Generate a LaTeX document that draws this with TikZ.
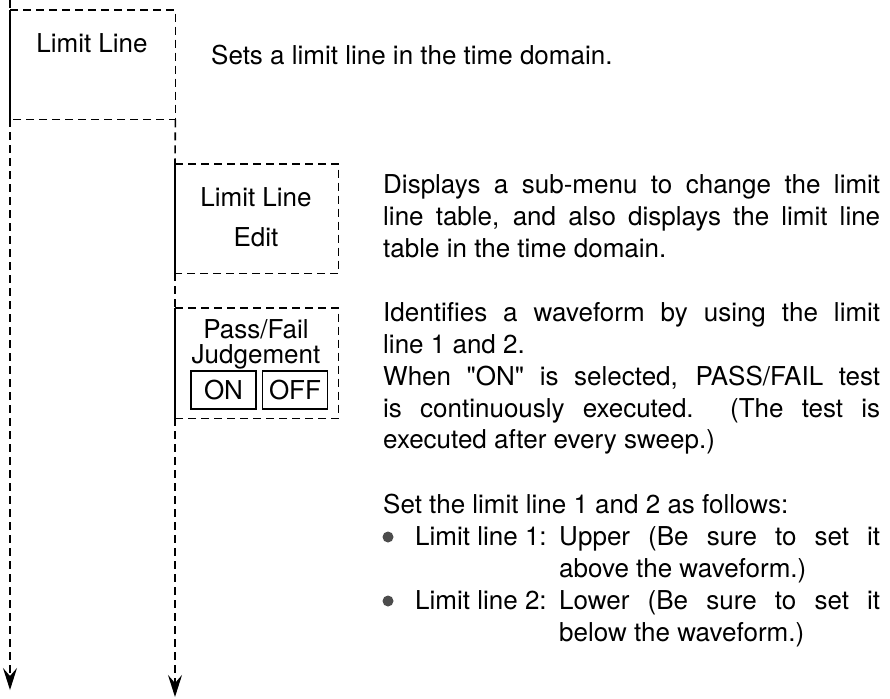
\documentclass[tikz,border=0pt]{standalone}
\usepackage{fontspec}
\setmainfont{TeX Gyre Heros}
\usepackage{tikz}
\usetikzlibrary{arrows.meta}

\newcommand{\justline}[2]{\makebox[#1pt][s]{#2}}

\tikzset{
    txt/.style={inner sep=0pt, anchor=base west, font=\fontsize{26}{32}\selectfont},
    boxtxt/.style={inner sep=0pt, anchor=base, font=\fontsize{26}{32}\selectfont},
    menubox/.style={rectangle, inner sep=0pt, anchor=north west},
    flowline/.style={line width=1.6pt, dash pattern=on 8pt off 5pt},
    edgeline/.style={line width=1.6pt},
    keybox/.style={draw, line width=1.6pt, minimum width=65pt, minimum height=38pt,
        inner sep=0pt, font=\fontsize{26}{32}\selectfont},
    dot/.style={circle, fill=black!70, inner sep=0pt, minimum size=11pt}
}

\begin{document}
\begin{tikzpicture}[x=1pt, y=-1pt, >={Stealth[length=22pt, width=14pt, inset=8pt]}]

\useasboundingbox (0,0) rectangle (890,698);

% ---------------- MENU BOXES ----------------

\node[menubox, minimum width=165pt, minimum height=109pt] (limit) at (10,10) {};
\node[menubox, minimum width=163pt, minimum height=109pt] (edit) at (175,164) {};
\node[menubox, minimum width=163pt, minimum height=110pt] (judge) at (175,308) {};

\foreach \b in {limit, edit, judge} {
    \draw[flowline] (\b.north west) -- (\b.north east) -- (\b.south east) -- (\b.south west);
    \draw[edgeline] (\b.north west) -- (\b.south west);
}

\node[boxtxt] (limitlbl) at (92,53) {Limit Line};
\node[boxtxt] (editlbl) at (256,206) {Limit Line};
\node[boxtxt] (editlbl2) at (256,246) {Edit};
\node[boxtxt] (judgelbl) at (256,338) {Pass/Fail};
\node[boxtxt] (judgelbl2) at (256,363) {Judgement};

\node[keybox] (on) at (223.5,390) {ON};
\node[keybox] (off) at (295,390) {OFF};

% ---------------- FLOW LINES ----------------

\coordinate (top) at (10,0);
\coordinate (endA) at (10,690);
\coordinate (endB) at (175,697);

\draw[flowline] (top) -- (limit.north west);
\draw[flowline, ->] (limit.south west) -- (endA);
\draw[flowline] (limit.south east) -- (edit.north west);
\draw[flowline] (edit.south west) -- (judge.north west);
\draw[flowline, ->] (judge.south west) -- (endB);

% ---------------- DESCRIPTIONS ----------------

\node[txt] (sets) at (211,65) {Sets a limit line in the time domain.};

\node[txt] (disp1) at (383,193) {\justline{497}{Displays a sub-menu to change the limit}};
\node[txt] (disp2) at (383,225) {\justline{497}{line table, and also displays the limit line}};
\node[txt] (disp3) at (383,257) {table in the time domain.};

\node[txt] (ident1) at (383,321) {\justline{497}{Identifies a waveform by using the limit}};
\node[txt] (ident2) at (383,353) {line 1 and 2.};
\node[txt] (ident3) at (383,385) {\justline{497}{When \textquotedbl ON\textquotedbl{} is selected, PASS/FAIL test}};
\node[txt] (ident4) at (383,417) {\justline{497}{is continuously executed.\ \ (The test is}};
\node[txt] (ident5) at (383,448) {executed after every sweep.)};

\node[txt] (set) at (383,513) {Set the limit line 1 and 2 as follows:};

\node[dot] (dot1) at (388,537) {};
\node[txt] (lim1) at (415,545) {Limit line 1:};
\node[txt] (upper) at (559,545) {\justline{321}{Upper (Be sure to set it}};
\node[txt] (above) at (559,577) {above the waveform.)};

\node[dot] (dot2) at (388,601) {};
\node[txt] (lim2) at (415,609) {Limit line 2:};
\node[txt] (lower) at (559,609) {\justline{321}{Lower (Be sure to set it}};
\node[txt] (below) at (559,641) {below the waveform.)};

\end{tikzpicture}
\end{document}
